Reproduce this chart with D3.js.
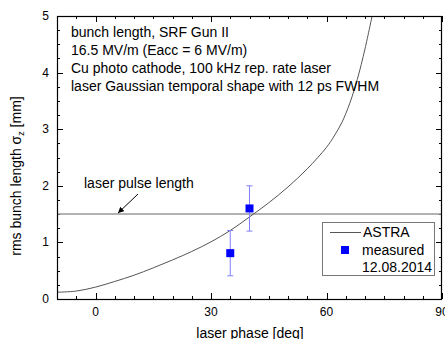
<!DOCTYPE html>
<html>
<head>
<meta charset="utf-8">
<script src="https://cdn.jsdelivr.net/npm/d3@7"></script>
<style>
    body { margin: 0; background: #fff; }
    text { font-family: Arial, "Liberation Sans", sans-serif; fill: #000; }
</style>
</head>
<body>
<div id="chart"></div>
<script>
// ASTRA simulation, laser phase [deg] vs rms bunch length [mm]
var astra_phase = [-10, -5, 0, 5, 10, 15, 20, 25, 30, 35, 40, 45, 50, 55, 60, 62, 64, 66, 68, 70, 72];
var astra_length = [0.12, 0.14, 0.21, 0.31, 0.42, 0.55, 0.69, 0.84, 1.01, 1.21, 1.45, 1.70, 1.98, 2.30, 2.68, 2.88, 3.12, 3.45, 3.88, 4.42, 5.05];

// measured points 12.08.2014
var meas_phase = [35, 40];
var meas_length = [0.81, 1.60];
var meas_err = [0.40, 0.40];

var laser_pulse_length = 1.5;

var x_ticks = [0, 30, 60, 90];
var y_ticks = [0, 1, 2, 3, 4, 5];

var info_lines = [
    'bunch length, SRF Gun II',
    '16.5 MV/m (Eacc = 6 MV/m)',
    'Cu photo cathode, 100 kHz rep. rate laser',
    'laser Gaussian temporal shape with 12 ps FWHM'
];

var svg = d3.select('#chart')
    .append('svg')
    .attr('width', 445)
    .attr('height', 339);

// plot box (note: "top" is reserved on window, so use p_ names)
var p_left = 57, p_right = 442, p_top = 16, p_bottom = 299;

var x = d3.scaleLinear().domain([-10, 90]).range([p_left, p_right]);
var y = d3.scaleLinear().domain([0, 5]).range([p_bottom, p_top]);

// clip for the curve
svg.append('clipPath')
    .attr('id', 'clip')
    .append('rect')
    .attr('x', p_left)
    .attr('y', p_top)
    .attr('width', p_right - p_left)
    .attr('height', p_bottom - p_top);

// minor ticks (inward)
var x_minor = d3.range(-10, 91, 5);
var y_minor = d3.range(0, 5.01, 0.25);

function tickLines(g, vals, scale, isX, majors) {
    vals.forEach(function(v) {
        var major = majors.indexOf(v) >= 0;
        var len = major ? 6 : 3;
        if (isX) {
            var px = Math.round(scale(v)) + 0.5;
            g.append('line').attr('x1', px).attr('x2', px)
                .attr('y1', p_bottom).attr('y2', p_bottom - len);
            g.append('line').attr('x1', px).attr('x2', px)
                .attr('y1', p_top).attr('y2', p_top + len);
        } else {
            var py = Math.round(scale(v)) + 0.5;
            g.append('line').attr('y1', py).attr('y2', py)
                .attr('x1', p_left).attr('x2', p_left + len);
            g.append('line').attr('y1', py).attr('y2', py)
                .attr('x1', p_right).attr('x2', p_right - len);
        }
    });
}

var ticks = svg.append('g').attr('stroke', '#000').attr('stroke-width', 1);
tickLines(ticks, x_minor, x, true, x_ticks);
tickLines(ticks, y_minor, y, false, y_ticks);

// laser pulse length line
svg.append('line')
    .attr('x1', p_left)
    .attr('x2', p_right)
    .attr('y1', y(laser_pulse_length))
    .attr('y2', y(laser_pulse_length))
    .attr('stroke', '#999')
    .attr('stroke-width', 1.5);

// ASTRA curve
var astra = astra_phase.map(function(d, i) {
    return { phase: d, len: astra_length[i] };
});
var line = d3.line()
    .x(function(d) { return x(d.phase); })
    .y(function(d) { return y(d.len); })
    .curve(d3.curveCatmullRom.alpha(0.5));

svg.append('path')
    .datum(astra)
    .attr('clip-path', 'url(#clip)')
    .attr('d', line)
    .attr('fill', 'none')
    .attr('stroke', '#555')
    .attr('stroke-width', 1);

// measured points with error bars
var meas = meas_phase.map(function(d, i) {
    return { phase: d, len: meas_length[i], err: meas_err[i] };
});
var pts = svg.append('g');
pts.selectAll('.bar')
    .data(meas)
    .enter()
    .append('path')
    .attr('class', 'bar')
    .attr('d', function(d) {
        var cx = x(d.phase);
        var y1 = y(d.len - d.err), y2 = y(d.len + d.err);
        return 'M' + (cx - 3) + ',' + y1 + 'H' + (cx + 3) +
            'M' + (cx - 3) + ',' + y2 + 'H' + (cx + 3) +
            'M' + cx + ',' + y1 + 'V' + y2;
    })
    .attr('fill', 'none')
    .attr('stroke', '#8080ff')
    .attr('stroke-width', 1);
pts.selectAll('.pt')
    .data(meas)
    .enter()
    .append('rect')
    .attr('class', 'pt')
    .attr('x', function(d) { return x(d.phase) - 4; })
    .attr('y', function(d) { return y(d.len) - 4; })
    .attr('width', 8)
    .attr('height', 8)
    .attr('fill', '#0000ff');

// frame
svg.append('rect')
    .attr('x', p_left + 0.5)
    .attr('y', p_top + 0.5)
    .attr('width', p_right - p_left - 1)
    .attr('height', p_bottom - p_top)
    .attr('fill', 'none')
    .attr('stroke', '#000')
    .attr('stroke-width', 1.2);

// tick labels
svg.append('g')
    .selectAll('text')
    .data(x_ticks)
    .enter()
    .append('text')
    .attr('x', function(d) { return x(d); })
    .attr('y', 316)
    .attr('text-anchor', 'middle')
    .attr('font-size', '12px')
    .text(function(d) { return d; });

svg.append('g')
    .selectAll('text')
    .data(y_ticks)
    .enter()
    .append('text')
    .attr('x', 49)
    .attr('y', function(d) { return y(d) + 4; })
    .attr('text-anchor', 'end')
    .attr('font-size', '12px')
    .text(function(d) { return d; });

// axis titles
svg.append('text')
    .attr('x', 250)
    .attr('y', 338)
    .attr('text-anchor', 'middle')
    .attr('font-size', '14px')
    .text('laser phase [deg]');

var ylab = svg.append('text')
    .attr('transform', 'translate(21,176) rotate(-90)')
    .attr('text-anchor', 'middle')
    .attr('font-size', '14px');
ylab.append('tspan').text('rms bunch length \u03c3');
ylab.append('tspan').attr('font-size', '9px').attr('dy', 3).text('z');
ylab.append('tspan').attr('dy', -3).text(' [mm]');

// info text
svg.append('g')
    .selectAll('text')
    .data(info_lines)
    .enter()
    .append('text')
    .attr('x', 71)
    .attr('y', function(d, i) { return 37 + i * 18; })
    .attr('font-size', '14px')
    .text(function(d) { return d; });

// laser pulse length annotation
svg.append('text')
    .attr('x', 84)
    .attr('y', 188)
    .attr('font-size', '14px')
    .text('laser pulse length');

svg.append('defs').append('marker')
    .attr('id', 'arrow')
    .attr('viewBox', '0 0 10 10')
    .attr('refX', 10)
    .attr('refY', 5)
    .attr('markerWidth', 6)
    .attr('markerHeight', 6)
    .attr('orient', 'auto')
    .append('path')
    .attr('d', 'M0,0L10,5L0,10z')
    .attr('fill', '#000');

svg.append('line')
    .attr('x1', 138)
    .attr('y1', 194)
    .attr('x2', 118)
    .attr('y2', y(laser_pulse_length) - 1)
    .attr('stroke', '#000')
    .attr('stroke-width', 1)
    .attr('marker-end', 'url(#arrow)');

// legend
var lg = svg.append('g');
lg.append('rect')
    .attr('x', 322.5)
    .attr('y', 222.5)
    .attr('width', 112)
    .attr('height', 53)
    .attr('fill', '#fff')
    .attr('stroke', '#777')
    .attr('stroke-width', 1);
lg.append('line')
    .attr('x1', 330)
    .attr('x2', 361)
    .attr('y1', 232.5)
    .attr('y2', 232.5)
    .attr('stroke', '#555');
lg.append('text')
    .attr('x', 363)
    .attr('y', 237)
    .attr('font-size', '14px')
    .text('ASTRA');
lg.append('rect')
    .attr('x', 341)
    .attr('y', 246)
    .attr('width', 8)
    .attr('height', 8)
    .attr('fill', '#0000ff');
lg.append('text')
    .attr('x', 362)
    .attr('y', 255)
    .attr('font-size', '14px')
    .text('measured');
lg.append('text')
    .attr('x', 362)
    .attr('y', 272)
    .attr('font-size', '14px')
    .text('12.08.2014');
</script>
</body>
</html>
